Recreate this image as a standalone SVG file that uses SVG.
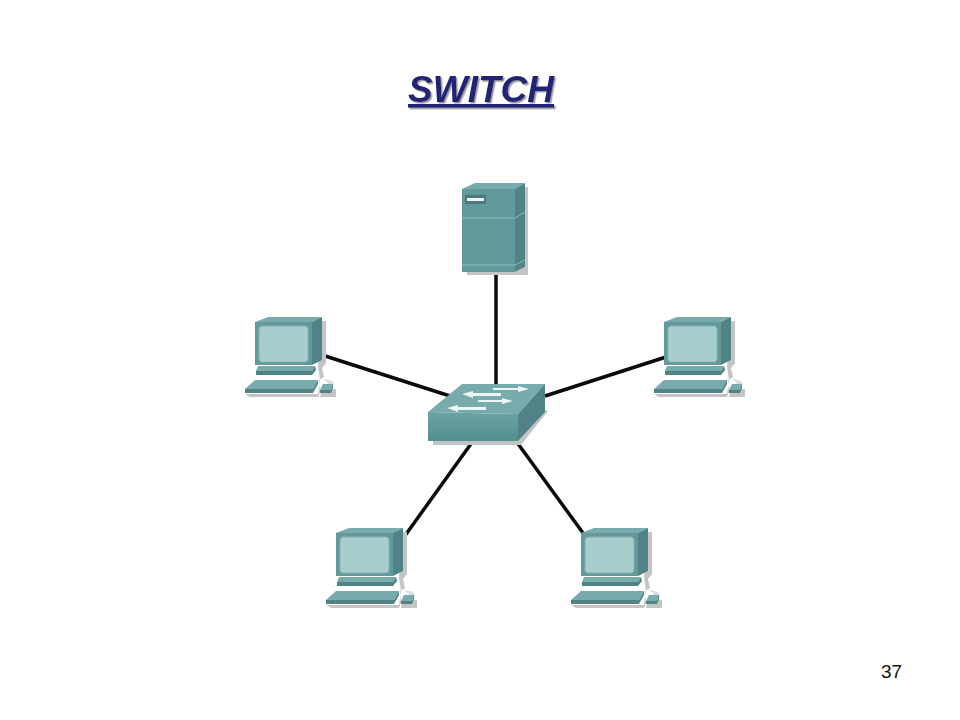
<svg xmlns="http://www.w3.org/2000/svg" width="960" height="720" viewBox="0 0 960 720">
<style>
.link{stroke:#0a0a0a;stroke-width:3.5;fill:none}
.sh{fill:#c4c4c4}
.front{fill:#62999b}
.side{fill:#4f8385}
.top{fill:#78abab}
.keys{fill:#6fa3a4}
.screen{fill:#a8cdcd;stroke:#86b0b0;stroke-width:1}
.arrow{fill:#eef5f5}
text{font-family:"Liberation Sans",Arial,sans-serif}
</style>
<defs>
<filter id="soft" x="-10%" y="-10%" width="120%" height="120%"><feGaussianBlur stdDeviation="0.7"/></filter>
<filter id="ds" x="-10%" y="-20%" width="120%" height="150%"><feDropShadow dx="1.5" dy="1.5" stdDeviation="0.7" flood-color="#9a9a9a"/></filter>
<linearGradient id="sw" x1="0" x2="0" y1="0" y2="1"><stop offset="0" stop-color="#6aa3a4"/><stop offset="1" stop-color="#548f90"/></linearGradient>
<g id="pc" filter="url(#soft)">
<path class="sh" d="M322 321h4v42l-4 5l2 9l-5 3l1 12l-2 5h-68l-5-3h73l2-14l-2-14z"/>
<path class="sh" d="M322 389h14v8h-16z"/>
<path d="M322 379q15 1 11 8q-4 4-11 3q6-2 6-5q0-4-6-6z" fill="#dcdcdc"/>
<path class="front" d="M255 322h57v43h-57z"/>
<path class="top" d="M255 322l13-5h54l-10 5z"/>
<path class="side" d="M312 322l10-5v43l-10 5z"/>
<rect class="screen" x="259" y="326" width="49" height="36" rx="3"/>
<path class="top" d="M258 366h57l-3 5h-56z"/>
<path class="side" d="M256 371h56l3-5l1 4l-4 5h-56z"/>
<path class="top" d="M255 380h63l-5 9h-68z"/>
<path class="side" d="M245 389h68l5-9v4l-5 9h-68z"/>
<path class="top" d="M323 384h10l-2 6h-11z"/>
<path class="side" d="M320 390h11l2-6v4l-2 5h-11z"/>
</g>
</defs>
<g id="connectors">
<path class="link" d="M496 272V386"/>
<path class="link" d="M322 355L450 396"/>
<path class="link" d="M666 357L545 396"/>
<path class="link" d="M473 441L404 537"/>
<path class="link" d="M516 441L583 533"/>
</g>
<g id="title"><text x="481" y="102" font-size="37" font-weight="700" font-style="italic" fill="#232376" text-anchor="middle" text-decoration="underline" filter="url(#ds)">SWITCH</text></g>
<g id="server" filter="url(#soft)">
<path class="sh" d="M525 187h3v88h-61v-3h48l10-5z"/>
<path class="front" d="M462 189h53v83h-53z"/>
<path class="top" d="M462 189l13-6h50l-10 6z"/>
<path class="side" d="M515 189l10-6v84l-10 5z"/>
<path d="M462 218h53l10-6" fill="none" stroke="#8fbcbc" stroke-width="1"/>
<path d="M462 265h53l10-5" fill="none" stroke="#8fbcbc" stroke-width="1"/>
<rect x="465" y="195" width="21" height="9" fill="#4a7a7c"/>
<rect x="467" y="198" width="17" height="3" fill="#eef4f4"/>
</g>
<g id="pc-left"><use href="#pc"/></g>
<g id="pc-right"><use href="#pc" x="409" y="0"/></g>
<g id="pc-bottom-left"><use href="#pc" x="81" y="211"/></g>
<g id="pc-bottom-right"><use href="#pc" x="326" y="211"/></g>
<g id="switch" filter="url(#soft)">
<path class="sh" d="M545 410l3 1l-27 34h-88v-4h85z"/>
<path class="top" d="M428 412l34-28h83l-27 30z"/>
<path fill="url(#sw)" d="M428 412l90 2v27h-90z"/>
<path class="side" d="M518 414l27-30v28l-27 29z"/>
<path class="arrow" d="M493 388h25v-2l11 3l-11 3v-2h-25z"/>
<path class="arrow" d="M462 394l11-3v2h28v3h-28v2z"/>
<path class="arrow" d="M478 400h24v-2l11 3l-11 3v-2h-24z"/>
<path class="arrow" d="M447 408l11-3v2h28v3h-28v2z"/>
</g>
<g id="page-number"><text x="881" y="678" font-size="19" fill="#111">37</text></g>
</svg>
